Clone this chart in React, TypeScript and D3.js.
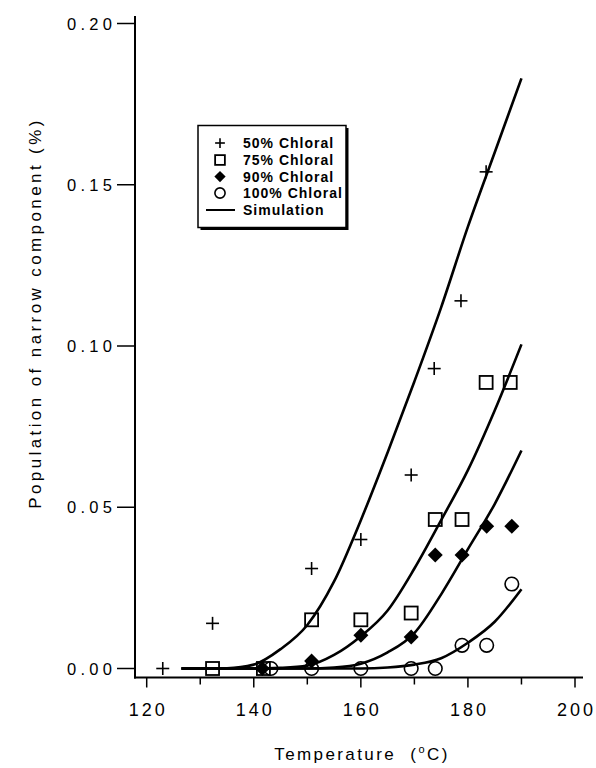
import React from "react";
import * as d3 from "d3";

// ---- Data ----
const xTicks = [120, 140, 160, 180, 200];
const xMinorTicks = [130, 150, 170, 190];
const yTicks = [0, 0.05, 0.1, 0.15, 0.2];

const temps50 = [123, 132.3, 150.8, 160, 169.4, 173.7, 178.7, 183.4];
const vals50 = [0, 0.014, 0.031, 0.04, 0.06, 0.093, 0.114, 0.154];

const temps75 = [132.3, 141.8, 150.8, 160, 169.4, 173.9, 178.9, 183.4, 187.9];
const vals75 = [0, 0, 0.0151, 0.0151, 0.0172, 0.0462, 0.0462, 0.0887, 0.0887];

const temps90 = [141.6, 150.8, 160, 169.4, 173.9, 178.9, 183.5, 188.2];
const vals90 = [0, 0.0023, 0.0103, 0.0098, 0.0352, 0.0352, 0.0441, 0.0441];

const temps100 = [143.2, 150.8, 160, 169.4, 173.9, 178.9, 183.5, 188.2];
const vals100 = [0, 0, 0, 0, 0, 0.0072, 0.0072, 0.0262];

const simT = [126.5, 135, 140, 145, 150, 155, 160, 165, 170, 175, 180, 185, 190];
const sim50 = [0, 0.0001, 0.0012, 0.006, 0.0135, 0.027, 0.046, 0.067, 0.089, 0.112, 0.137, 0.16, 0.183];
const sim75 = [0, 0, 0, 0.0002, 0.0009, 0.0042, 0.01, 0.018, 0.031, 0.046, 0.0615, 0.08, 0.1005];
const sim90 = [0, 0, 0, 0, 0, 0.0003, 0.0015, 0.005, 0.011, 0.023, 0.037, 0.051, 0.0676];
const sim100 = [0, 0, 0, 0, 0, 0, 0, 0.0003, 0.0012, 0.0032, 0.008, 0.0145, 0.0246];

const legendLabels = ["50% Chloral", "75% Chloral", "90% Chloral", "100% Chloral", "Simulation"];

const FONT = "'Liberation Sans', Arial, Helvetica, sans-serif";

type Kind = "plus" | "square" | "diamond" | "circle";

function Marker({ kind, x, y, size = 1 }: { kind: Kind; x: number; y: number; size?: number }) {
  if (kind === "plus") {
    const a = 6.5 * size;
    return (
      <g stroke="#000" strokeWidth={1.6}>
        <line x1={x - a} x2={x + a} y1={y} y2={y} />
        <line x1={x} x2={x} y1={y - a} y2={y + a} />
      </g>
    );
  }
  if (kind === "square") {
    const s = 6.5 * size;
    return <rect x={x - s} y={y - s} width={2 * s} height={2 * s} fill="none" stroke="#000" strokeWidth={1.8} />;
  }
  if (kind === "diamond") {
    const s = 7.5 * size;
    return <path d={`M${x},${y - s}L${x + s},${y}L${x},${y + s}L${x - s},${y}Z`} fill="#000" stroke="none" />;
  }
  return <circle cx={x} cy={y} r={6.8 * size} fill="none" stroke="#000" strokeWidth={1.6} />;
}

export default function App() {
  const W = 596;
  const H = 768;
  const x = d3.scaleLinear().domain([120, 200]).range([146.7, 575]);
  const y = d3.scaleLinear().domain([0, 0.2]).range([668.5, 23.5]);

  const line = d3
    .line<[number, number]>()
    .x((d) => x(d[0]))
    .y((d) => y(d[1]))
    .curve(d3.curveMonotoneX);

  const sims = [sim50, sim75, sim90, sim100];
  const series: { kind: Kind; t: number[]; v: number[] }[] = [
    { kind: "plus", t: temps50, v: vals50 },
    { kind: "square", t: temps75, v: vals75 },
    { kind: "diamond", t: temps90, v: vals90 },
    { kind: "circle", t: temps100, v: vals100 },
  ];

  const axX = 135;
  const axY = 677.5;

  const lgX = 198;
  const lgY = 125.5;
  const lgW = 148;
  const lgH = 102;
  const rowY = [143, 160, 176.5, 193, 210];
  const symX = 220;
  const txtX = 243;

  return (
    <div style={{ position: "absolute", left: 0, top: 0, width: W, height: H, background: "#fff" }}>
      <svg width={W} height={H} style={{ display: "block" }} fontFamily={FONT}>
        <rect width={W} height={H} fill="#fff" />
        {/* axes */}
        <line x1={axX} x2={axX} y1={16} y2={axY + 1} stroke="#000" strokeWidth={2} />
        <line x1={axX - 1} x2={583} y1={axY} y2={axY} stroke="#000" strokeWidth={2} />
        {yTicks.map((t) => (
          <g key={"y" + t}>
            <line x1={117} x2={axX} y1={y(t)} y2={y(t)} stroke="#000" strokeWidth={1.5} />
            <text x={112 + 4.3} y={y(t) + 6} textAnchor="end" fontSize={16.5} letterSpacing={4.3} fill="#000">
              {t.toFixed(2)}
            </text>
          </g>
        ))}
        {xTicks.map((t) => (
          <g key={"x" + t}>
            <line x1={x(t)} x2={x(t)} y1={axY} y2={axY + 10} stroke="#000" strokeWidth={1.5} />
            <text x={x(t) + 1.5} y={716} textAnchor="middle" fontSize={18} letterSpacing={3} fill="#000">
              {String(t)}
            </text>
          </g>
        ))}
        {xMinorTicks.map((t) => (
          <line key={"m" + t} x1={x(t)} x2={x(t)} y1={axY} y2={axY + 7} stroke="#000" strokeWidth={1.5} />
        ))}
        {/* axis titles */}
        <text x={362} y={760} textAnchor="middle" fontSize={17} letterSpacing={2.4} fill="#000" style={{ whiteSpace: "pre" }}>
          {"Temperature  ("}
          <tspan fontSize={11} dy={-7}>o</tspan>
          <tspan dy={7}>C)</tspan>
        </text>
        <text
          transform="translate(41,313) rotate(-90)"
          textAnchor="middle"
          fontSize={17}
          letterSpacing={3.4}
          fill="#000"
        >
          Population of narrow component (%)
        </text>
        {/* simulation lines */}
        {sims.map((s, i) => (
          <path
            key={"s" + i}
            d={line(simT.map((t, j) => [t, s[j]] as [number, number])) || ""}
            fill="none"
            stroke="#000"
            strokeWidth={2.6}
          />
        ))}
        {/* data */}
        {series.map((s) =>
          s.t.map((t, j) => <Marker key={s.kind + j} kind={s.kind} x={x(t)} y={y(s.v[j])} />)
        )}
        {/* legend */}
        <rect x={lgX + 2.5} y={lgY + 2.5} width={lgW} height={lgH} fill="#000" />
        <rect x={lgX} y={lgY} width={lgW} height={lgH} fill="#fff" stroke="#000" strokeWidth={1.5} />
        {series.map((s, i) => (
          <g key={"lg" + s.kind}>
            <Marker kind={s.kind} x={symX} y={rowY[i]} size={0.75} />
            <text x={txtX} y={rowY[i] + 5} fontSize={14} fontWeight="bold" letterSpacing={1} fill="#000">
              {legendLabels[i]}
            </text>
          </g>
        ))}
        <line x1={206} x2={235} y1={rowY[4]} y2={rowY[4]} stroke="#000" strokeWidth={2} />
        <text x={txtX} y={rowY[4] + 5} fontSize={14} fontWeight="bold" letterSpacing={1} fill="#000">
          {legendLabels[4]}
        </text>
      </svg>
    </div>
  );
}
